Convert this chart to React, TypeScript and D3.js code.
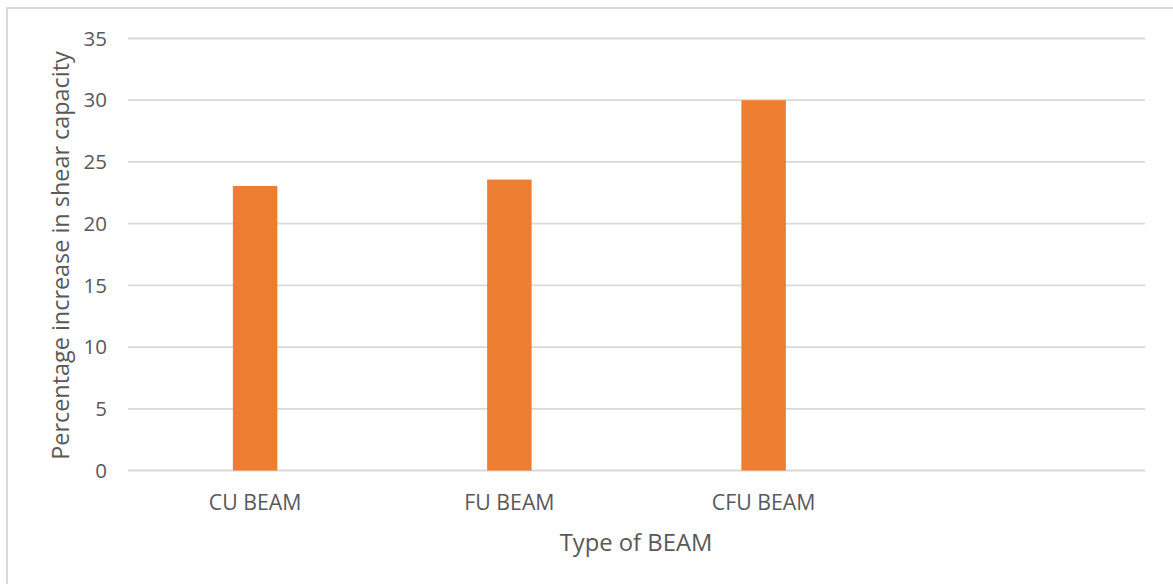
import React from "react";
import * as d3 from "d3";

const categories = ["CU BEAM", "FU BEAM", "CFU BEAM", ""];
const values = [23.05, 23.57, 30.0, null];
const yTicks = [0, 5, 10, 15, 20, 25, 30, 35];

const W = 1173;
const H = 584;
const left = 128;
const right = 1145;
const top = 38.5;
const bottom = 470.5;
const font = "'Open Sans', 'Noto Sans', sans-serif";
const textColor = "#595959";

export default function App() {
  const x = d3.scaleBand<string>().domain(categories.map((c, i) => String(i))).range([left, right]).padding(0);
  const y = d3.scaleLinear().domain([0, 35]).range([bottom, top]);
  const barW = x.step() * 0.175;

  return (
    <svg width={W} height={H} style={{ position: "absolute", left: 0, top: 0, background: "#fff" }}>
      <rect x={7} y={8} width={W + 20} height={H + 20} fill="none" stroke="#D9D9D9" strokeWidth={2} />
      {yTicks.map((t) => (
        <g key={t}>
          <line x1={left} x2={right} y1={y(t)} y2={y(t)} stroke="#D9D9D9" strokeWidth={1.8} />
          <text x={107} y={y(t)} dy="0.35em" textAnchor="end" fontFamily={font} fontSize={20.5} fill={textColor}>
            {t}
          </text>
        </g>
      ))}
      {values.map((v, i) =>
        v == null ? null : (
          <rect
            key={i}
            x={(x(String(i)) as number) + x.bandwidth() / 2 - barW / 2}
            y={y(v)}
            width={barW}
            height={y(0) - y(v)}
            fill="#ED7D31"
          />
        )
      )}
      {categories.map((c, i) => (
        <text
          key={i}
          x={(x(String(i)) as number) + x.bandwidth() / 2}
          y={503}
          dy="0.35em"
          textAnchor="middle"
          fontFamily={font}
          fontSize={21.3}
          fill={textColor}
        >
          {c}
        </text>
      ))}
      <text x={636} y={543} dy="0.35em" textAnchor="middle" fontFamily={font} fontSize={23.8} fill={textColor}>
        Type of BEAM
      </text>
      <text
        transform={`translate(61,${(top + bottom) / 2 + 1}) rotate(-90)`}
        dy="0.35em"
        textAnchor="middle"
        fontFamily={font}
        fontSize={23.4}
        fill={textColor}
      >
        Percentage increase in shear capacity
      </text>
    </svg>
  );
}
